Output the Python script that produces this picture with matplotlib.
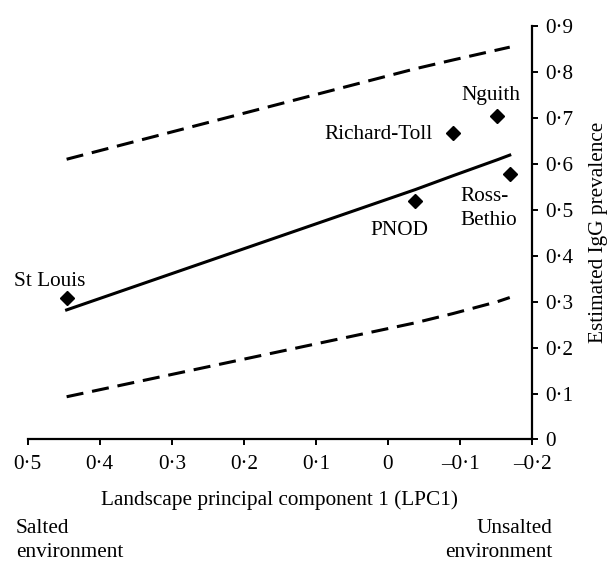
import matplotlib
matplotlib.use("Agg")
import matplotlib.pyplot as plt
from matplotlib.ticker import FixedLocator, FuncFormatter

plt.rcParams['font.family'] = ['Liberation Serif', 'DejaVu Serif']

# observed sites
sites = ['St Louis', 'PNOD', 'Richard-Toll', 'Nguith', 'Ross-\nBethio']
site_lpc1 = [0.446, -0.038, -0.090, -0.152, -0.169]
site_prev = [0.308, 0.520, 0.667, 0.704, 0.578]

# fitted curve and confidence band (read at the site positions)
fit_lpc1 = [0.446, -0.038, -0.090, -0.152, -0.169]
fit_prev = [0.282, 0.544, 0.574, 0.609, 0.619]
upper_prev = [0.610, 0.807, 0.826, 0.848, 0.854]
lower_prev = [0.093, 0.254, 0.274, 0.300, 0.309]

x_ticks = [0.5, 0.4, 0.3, 0.2, 0.1, 0.0, -0.1, -0.2]
y_ticks = [0.0, 0.1, 0.2, 0.3, 0.4, 0.5, 0.6, 0.7, 0.8, 0.9]

FS = 15.3

# label offsets in pixels: (dx, dy, ha)
label_offsets = {
    'St Louis': (-17, 16, 'center'),
    'PNOD': (-16, -30, 'center'),
    'Richard-Toll': (-20, -1, 'right'),
    'Nguith': (-7, 21, 'center'),
    'Ross-\nBethio': (-49, -35, 'left'),
}


def fmt(v, pos):
    if abs(v) < 1e-9:
        return '0'
    s = ('%.1f' % abs(v)).replace('.', '\u00b7')
    return ('\u2013' + s) if v < 0 else s


fig = plt.figure(figsize=(6.13, 5.63), dpi=100)
ax = fig.add_axes([0.0452, 0.2194, 0.8228, 0.7344])

lw = 2.2
ax.plot(fit_lpc1, fit_prev, '-', color='black', lw=lw)
ax.plot(fit_lpc1, upper_prev, color='black', lw=lw, dashes=(5.6, 2.9))
ax.plot(fit_lpc1, lower_prev, color='black', lw=lw, dashes=(5.6, 2.9))
ax.plot(site_lpc1, site_prev, 'D', color='black', markersize=7, ls='none')

for name, x, y in zip(sites, site_lpc1, site_prev):
    dx, dy, ha = label_offsets[name]
    ax.annotate(name, (x, y), xytext=(dx, dy), textcoords='offset pixels',
                ha=ha, va='center', fontsize=FS, linespacing=1.35,
                multialignment='left')

ax.set_xlim(0.5, -0.2)
ax.set_ylim(0, 0.9)

ax.spines['top'].set_visible(False)
ax.spines['left'].set_visible(False)
ax.spines['right'].set_linewidth(1.6)
ax.spines['bottom'].set_linewidth(1.6)

ax.yaxis.tick_right()
ax.xaxis.set_major_locator(FixedLocator(x_ticks))
ax.yaxis.set_major_locator(FixedLocator(y_ticks))
ax.xaxis.set_major_formatter(FuncFormatter(fmt))
ax.yaxis.set_major_formatter(FuncFormatter(fmt))
ax.tick_params(axis='both', direction='out', length=4.5, width=1.4,
               labelsize=FS)
ax.tick_params(axis='x', pad=7)
ax.tick_params(axis='y', pad=5)

ax.set_xlabel('Landscape principal component 1 (LPC1)', fontsize=FS, va='center')
ax.xaxis.set_label_coords(0.5, -0.146)
ax.yaxis.set_label_position('right')
ax.set_ylabel('Estimated IgG prevalence', fontsize=FS, rotation=90, va='center')
ax.yaxis.set_label_coords(1.131, 0.5)

fig.text(0.026, 0.040, 'Salted\nenvironment', ha='left', va='center',
         fontsize=FS, linespacing=1.35)
fig.text(0.9005, 0.040, 'Unsalted\nenvironment', ha='right', va='center',
         fontsize=FS, linespacing=1.35, multialignment='right')

fig.savefig('out.png', dpi=100)
